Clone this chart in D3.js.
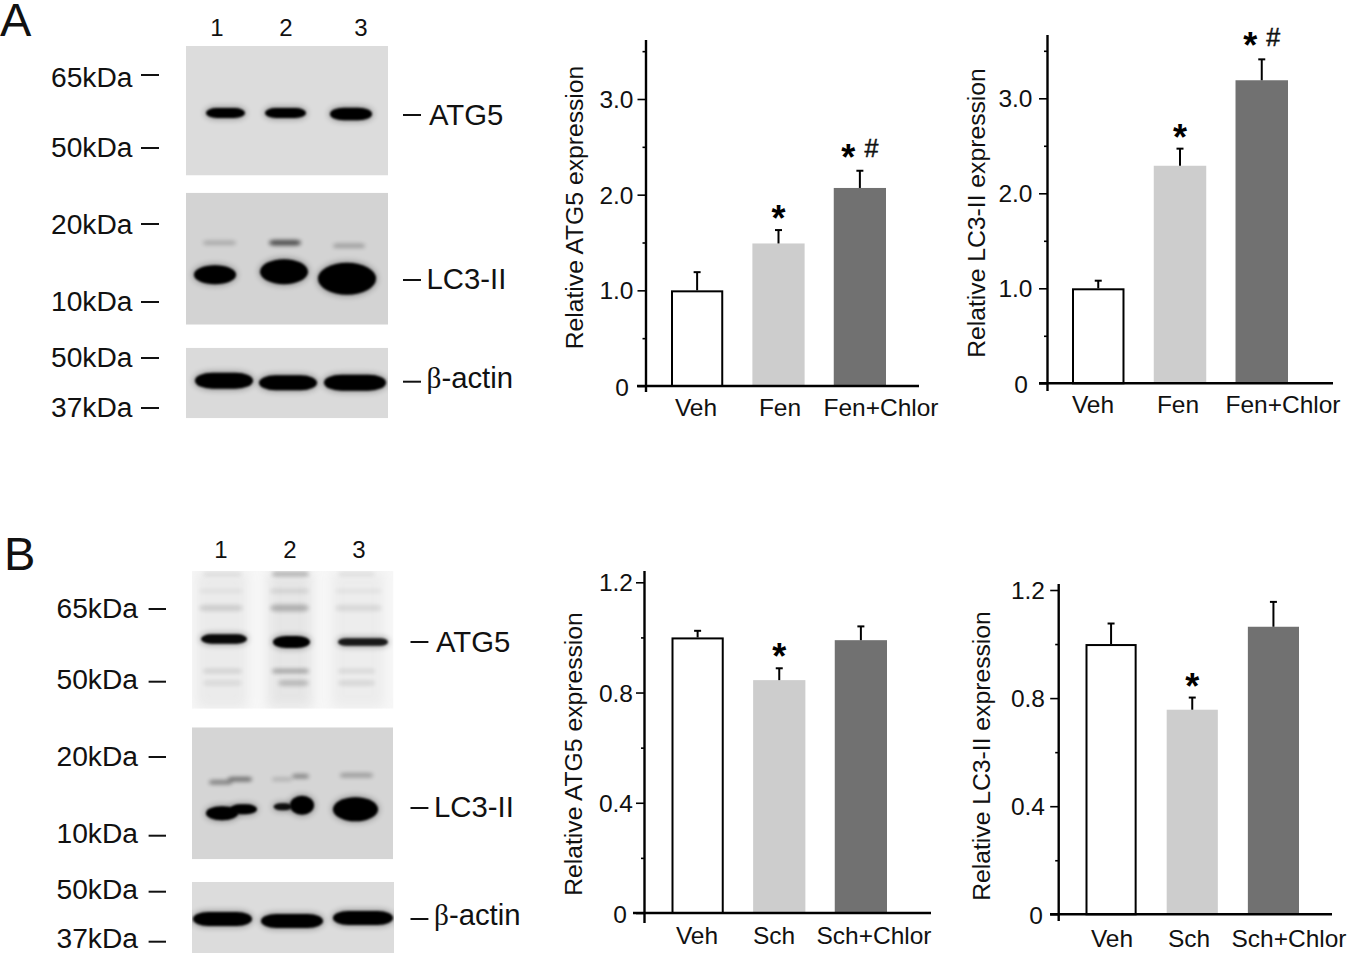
<!DOCTYPE html>
<html><head><meta charset="utf-8">
<script src="https://cdn.jsdelivr.net/npm/d3@7/dist/d3.min.js"></script>
<style>html,body{margin:0;padding:0;background:#fff}svg{display:block}text{font-family:"Liberation Sans",Arial,sans-serif;fill:#111}</style>
</head><body><svg id="c" width="1348" height="954"></svg>
<script>
// ---- chart data
const categoriesA = ["Veh", "Fen", "Fen+Chlor"];
const categoriesB = ["Veh", "Sch", "Sch+Chlor"];
const atg5A = [1.0, 1.49, 2.07];
const atg5AErrTop = [1.19, 1.63, 2.25];
const lc3A = [1.0, 2.29, 3.19];
const lc3AErrTop = [1.08, 2.47, 3.41];
const atg5B = [1.0, 0.845, 0.99];
const atg5BErrTop = [1.024, 0.888, 1.04];
const lc3B = [1.0, 0.757, 1.064];
const lc3BErrTop = [1.076, 0.802, 1.156];
const marksA = ["", "*", "*#"];
const marksB = ["", "*", ""];
const ticksA = [0, 1, 2, 3];
const minorA = [0.5, 1.5, 2.5, 3.5];
const ticksB = [0, 0.4, 0.8, 1.2];
const minorB = [0.2, 0.6, 1.0];
const barFills = ["#ffffff", "#cdcdcd", "#717171"];

const svg = d3.select("#c");
const defs = svg.append("defs");
[["b1", 1.3], ["b2", 2.2], ["b3", 3], ["b6", 6]].forEach(([id, s]) => {
  defs.append("filter").attr("id", id).attr("x", "-30%").attr("y", "-150%").attr("width", "160%").attr("height", "400%")
    .append("feGaussianBlur").attr("stdDeviation", s);
});

// ---- bar charts
const charts = [
  {cats: categoriesA, vals: atg5A, err: atg5AErrTop, marks: marksA, ticks: ticksA, minor: minorA, fmt: v => v ? v.toFixed(1) : "0",
   title: "Relative ATG5 expression", titleX: 583, titleY: 207.5,
   ax: 646, axisTop: 40, axisBot: 392, y0: 386, yRef: 99, ref: 3, xL: 637, xR: 919, bars: [671, 886], pad: .358,
   lx: [696, 780, 881], lb: 416, tr: 633.5, zr: 629},
  {cats: categoriesA, vals: lc3A, err: lc3AErrTop, marks: marksA, ticks: ticksA, minor: minorA, fmt: v => v ? v.toFixed(1) : "0",
   title: "Relative LC3-II expression", titleX: 984.5, titleY: 213,
   ax: 1047.5, axisTop: 35, axisBot: 391, y0: 383.3, yRef: 98.3, ref: 3, xL: 1039, xR: 1333, bars: [1072, 1288], pad: .358,
   lx: [1093, 1178, 1283], lb: 413, tr: 1032.5, zr: 1028},
  {cats: categoriesB, vals: atg5B, err: atg5BErrTop, marks: marksB, ticks: ticksB, minor: minorB, fmt: v => v ? v.toFixed(1) : "0",
   title: "Relative ATG5 expression", titleX: 581.5, titleY: 754,
   ax: 644.5, axisTop: 571, axisBot: 923, y0: 913, yRef: 582.3, ref: 1.2, xL: 633, xR: 931, bars: [671.5, 887], pad: .36,
   lx: [697, 774, 874], lb: 943.5, tr: 633, zr: 627},
  {cats: categoriesB, vals: lc3B, err: lc3BErrTop, marks: marksB, ticks: ticksB, minor: minorB, fmt: v => v ? v.toFixed(1) : "0",
   title: "Relative LC3-II expression", titleX: 990, titleY: 756,
   ax: 1058.7, axisTop: 584, axisBot: 921, y0: 914.3, yRef: 590, ref: 1.2, xL: 1050, xR: 1332, bars: [1085.5, 1299], pad: .37,
   lx: [1112, 1189, 1289], lb: 947, tr: 1045, zr: 1043}
];

function star(g, cx, cy) {
  g.append("text").attr("x", cx).attr("y", cy + 18).attr("text-anchor", "middle").attr("font-size", 36).attr("font-weight", "bold").style("fill", "#000").text("*");
}

charts.forEach(c => {
  const g = svg.append("g");
  const y = d3.scaleLinear().domain([0, c.ref]).range([c.y0, c.yRef]);
  const x = d3.scaleBand().domain(c.cats).range(c.bars).paddingInner(c.pad).paddingOuter(0);

  c.cats.forEach((k, i) => {
    const outline = i === 0;
    g.append("rect")
      .attr("x", x(k) + (outline ? 1 : 0)).attr("width", x.bandwidth() - (outline ? 2 : 0))
      .attr("y", y(c.vals[i]) + (outline ? 1 : 0)).attr("height", c.y0 - y(c.vals[i]) - (outline ? 1 : 0))
      .attr("fill", barFills[i]).attr("stroke", outline ? "#000" : "none").attr("stroke-width", outline ? 2 : 0);
    const cx = x(k) + x.bandwidth() / 2;
    g.append("line").attr("x1", cx).attr("x2", cx).attr("y1", y(c.vals[i])).attr("y2", y(c.err[i])).attr("stroke", "#000").attr("stroke-width", 2);
    g.append("line").attr("x1", cx - 3.5).attr("x2", cx + 3.5).attr("y1", y(c.err[i])).attr("y2", y(c.err[i])).attr("stroke", "#000").attr("stroke-width", 2);
    const m = c.marks[i];
    if (m === "*") star(g, cx, y(c.err[i]) - 17);
    if (m === "*#") {
      star(g, cx - 11.5, y(c.err[i]) - 19);
      g.append("text").attr("x", cx + 11.5).attr("y", y(c.err[i]) - 13.5).attr("text-anchor", "middle").attr("font-size", 25)
        .attr("stroke", "#111").attr("stroke-width", .5).text("#");
    }
    g.append("text").attr("x", c.lx[i]).attr("y", c.lb).attr("text-anchor", "middle").attr("font-size", 24.5).text(k);
  });

  const major = d3.axisLeft(y).tickValues(c.ticks).tickSize(8.5).tickFormat("");
  const minor = d3.axisLeft(y).tickValues(c.minor).tickSize(3.5).tickFormat("");
  [major, minor].forEach(a => {
    const ag = g.append("g").attr("transform", `translate(${c.ax},0)`).call(a);
    ag.select(".domain").remove();
    ag.selectAll("line").attr("stroke", "#000").attr("stroke-width", 1.6);
  });
  g.append("line").attr("x1", c.ax).attr("x2", c.ax).attr("y1", c.axisTop).attr("y2", c.axisBot).attr("stroke", "#000").attr("stroke-width", 2.4);
  g.append("line").attr("x1", c.xL).attr("x2", c.xR).attr("y1", c.y0).attr("y2", c.y0).attr("stroke", "#000").attr("stroke-width", 2.4);
  c.ticks.forEach(t => {
    g.append("text").attr("x", t ? c.tr : c.zr).attr("y", y(t) + (t ? 9 : 10)).attr("text-anchor", "end").attr("font-size", 24.5).text(c.fmt(t));
  });
  g.append("text").attr("transform", `translate(${c.titleX},${c.titleY}) rotate(-90)`).attr("text-anchor", "middle").attr("font-size", 24.7).text(c.title);
});

// ---- western blots: panel rectangles, and bands in panel-relative gel units [x0, x1, yc, h, density]
const blots = [
  {x: 186, y: 46, w: 202, h: 129.5, bg: "#dcdcdc", bands: [[20,59,67,10,1],[79,120,67,10,1],[144,186,68,12.5,1]]},
  {x: 186, y: 192.7, w: 202, h: 132, bg: "#d3d3d3", bands: [[17,50,50,4,.22],[83,115,50,5,.7],[147,179,53,4,.28],[8,50,82,19,1],[74,122,79,25,1],[132,190,86,32,1]]},
  {x: 186, y: 347.7, w: 202, h: 70.5, bg: "#dadada", bands: [[9,67,33,16,1],[73,131,35,15,1],[138,200,35,16,1]]},
  {x: 192, y: 571, w: 201.5, h: 137.7, bg: "#f7f7f7",
   smears: [[5,55,0,137,.13],[76,120,0,137,.18],[140,192,0,137,.1]],
   bands: [[9,55,68,9.5,.95],[81,118,71,12,1],[146,196,71,7.5,.85],
     [7,51,37,6,.13],[78,117,37,7,.24],[143,190,37,6,.09],
     [11,50,100,4,.12],[80,117,100,4,.32],[146,183,100,4,.1],
     [11,50,112,5,.08],[86,117,112,6,.2],[146,183,112,5,.1],
     [11,50,3,4,.07],[80,117,3,4,.28],[146,183,3,4,.07],
     [7,51,20,4,.05],[78,117,20,4,.1],[143,190,20,4,.05]]},
  {x: 192, y: 727.3, w: 201, h: 132, bg: "#d5d5d5", bands: [[17,40,55,4,.45],[36,60,52,4,.55],[80,100,52,3,.22],[100,117,49,4,.42],[148,181,48,4,.3],
     [14,46,86,14,1],[38,65,82,10,1],[81.6,100,79.4,7,.9],[98,122,78,19,1],[141,186,82,24,1]]},
  {x: 192, y: 882, w: 202, h: 71, bg: "#dcdcdc", bands: [[1,60,37,14,1],[69,131,39,14,1],[141,201,36,14,1]]}
];

blots.forEach((b, i) => {
  const id = "clip" + i;
  defs.append("clipPath").attr("id", id).append("rect").attr("x", b.x).attr("y", b.y).attr("width", b.w).attr("height", b.h);
  const gx = d3.scaleLinear().domain([0, b.w]).range([b.x, b.x + b.w]);
  const gy = d3.scaleLinear().domain([0, b.h]).range([b.y, b.y + b.h]);
  const g = svg.append("g").attr("clip-path", `url(#${id})`);
  g.append("rect").attr("x", b.x).attr("y", b.y).attr("width", b.w).attr("height", b.h).attr("fill", b.bg);
  (b.smears || []).forEach(s => {
    g.append("rect").attr("x", gx(s[0])).attr("width", gx(s[1]) - gx(s[0])).attr("y", gy(s[2])).attr("height", s[3])
      .attr("fill", "#999").attr("opacity", s[4]).attr("filter", "url(#b6)");
  });
  b.bands.forEach(d => {
    const h = d[3], w = gx(d[1]) - gx(d[0]), strong = d[4] >= .8;
    const draw = (op, filt, grow) => g.append("rect").attr("x", gx(d[0]) - grow).attr("width", w + 2 * grow)
      .attr("y", gy(d[2]) - h / 2 - grow).attr("height", h + 2 * grow)
      .attr("rx", Math.min(w / 2, h * 1.1)).attr("ry", h / 2 + grow)
      .attr("fill", "#050505").attr("opacity", op).attr("filter", filt);
    if (strong) draw(.35, "url(#b3)", 1);
    draw(d[4], strong ? "url(#b1)" : "url(#b2)", 0);
  });
});

// ---- blot annotations
const kdaLabels = ["65kDa", "50kDa", "20kDa", "10kDa", "50kDa", "37kDa"];
const proteinLabels = ["ATG5", "LC3-II", "actin"];
const laneLabels = ["1", "2", "3"];
const panels = [
  {letter: "A", lx: 0, ly: 36, fs: 47, laneX: [217, 286, 361], laneY: 36,
   kx: 51, kb: [86.7, 157, 234, 311, 367, 417], dx: [141, 159], dy: [75, 148, 224, 302, 358, 408],
   rd: [403, 421], ry: [115, 280, 381.7], rx: [429, 426.5, 426.5], rb: [125, 289.3, 387.7]},
  {letter: "B", lx: 4, ly: 570, fs: 47, laneX: [221, 290, 359], laneY: 558,
   kx: 56.5, kb: [617.7, 689, 766, 842.7, 899, 948], dx: [148.6, 166], dy: [609, 681.7, 757, 835.7, 891.7, 941.7],
   rd: [410.5, 428.4], ry: [642, 808, 919], rx: [436, 434, 434], rb: [652, 816.7, 925]}
];
panels.forEach(p => {
  const g = svg.append("g");
  g.append("text").attr("x", p.lx).attr("y", p.ly).attr("font-size", p.fs).text(p.letter);
  laneLabels.forEach((t, i) => g.append("text").attr("x", p.laneX[i]).attr("y", p.laneY).attr("text-anchor", "middle").attr("font-size", 24).text(t));
  kdaLabels.forEach((t, i) => {
    g.append("text").attr("x", p.kx).attr("y", p.kb[i]).attr("font-size", 28.2).text(t);
    g.append("line").attr("x1", p.dx[0]).attr("x2", p.dx[1]).attr("y1", p.dy[i]).attr("y2", p.dy[i]).attr("stroke", "#111").attr("stroke-width", 2);
  });
  proteinLabels.forEach((t, i) => {
    g.append("line").attr("x1", p.rd[0]).attr("x2", p.rd[1]).attr("y1", p.ry[i]).attr("y2", p.ry[i]).attr("stroke", "#111").attr("stroke-width", 2);
    const tx = g.append("text").attr("x", p.rx[i]).attr("y", p.rb[i]).attr("font-size", 29.3);
    if (t === "actin") {
      tx.append("tspan").style("font-family", "'Liberation Serif','DejaVu Serif',serif").text("β");
      tx.append("tspan").text("-actin");
    } else tx.text(t);
  });
});
</script></body></html>
